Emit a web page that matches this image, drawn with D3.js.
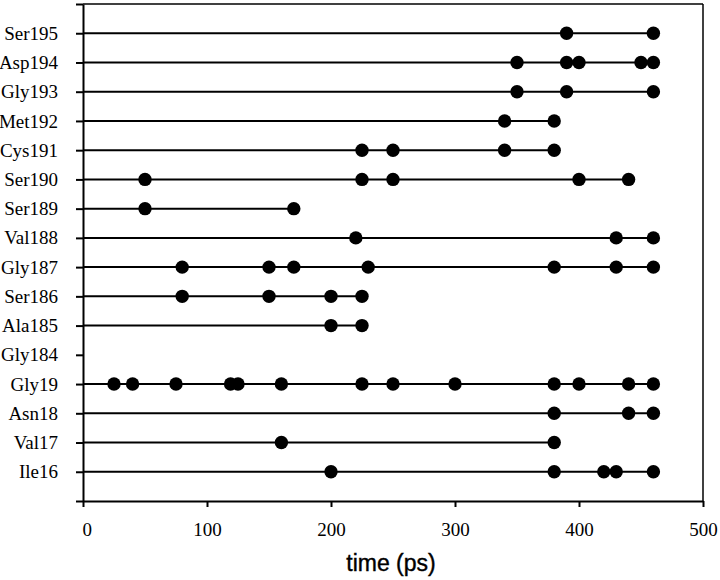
<!DOCTYPE html>
<html>
<head>
<meta charset="utf-8">
<script src="https://cdn.jsdelivr.net/npm/d3@7"></script>
<style>
    body { margin: 0; background: #fff; }
    svg { display: block; }
    .axis path, .axis line { stroke: #000; stroke-width: 2px; }
    .axis text { font-family: "Liberation Serif", "Times New Roman", serif; font-size: 19px; fill: #000; }
    .row-line { stroke: #000; stroke-width: 2px; }
    .dot { fill: #000; }
    .frame { stroke: #000; stroke-width: 1.5px; }
    .x-title { font-family: "Liberation Sans", Arial, sans-serif; font-size: 23px; fill: #000; stroke: #000; stroke-width: 0.4px; }
</style>
</head>
<body>
<svg class="events" width="720" height="580"></svg>
<script>
"use strict";

// residues from bottom (position 1) to top (position 16)
var residues = ["Ile16", "Val17", "Asn18", "Gly19", "Gly184", "Ala185", "Ser186", "Gly187",
    "Val188", "Ser189", "Ser190", "Cys191", "Met192", "Gly193", "Asp194", "Ser195"];

// event times (ps) for each residue, same order as above
var eventTimes = [
    [200, 380, 420, 430, 460],                                    // Ile16
    [160, 380],                                                    // Val17
    [380, 440, 460],                                               // Asn18
    [25, 40, 75, 119, 125, 160, 225, 250, 300, 380, 400, 440, 460], // Gly19
    [],                                                            // Gly184
    [200, 225],                                                    // Ala185
    [80, 150, 200, 225],                                           // Ser186
    [80, 150, 170, 230, 380, 430, 460],                            // Gly187
    [220, 430, 460],                                               // Val188
    [50, 170],                                                     // Ser189
    [50, 225, 250, 400, 440],                                      // Ser190
    [225, 250, 340, 380],                                          // Cys191
    [340, 380],                                                    // Met192
    [350, 390, 460],                                               // Gly193
    [350, 390, 400, 450, 460],                                     // Asp194
    [390, 460]                                                     // Ser195
];

var xTicks = [0, 100, 200, 300, 400, 500];

function drawEventChart() {
    var svg = d3.select("svg.events");
    var margin = { top: 4, right: 17, bottom: 79, left: 83 };
    var width = +svg.attr("width") - margin.left - margin.right;
    var height = +svg.attr("height") - margin.top - margin.bottom;
    var g = svg.append("g").attr("transform", "translate(" + margin.left + ", " + margin.top + ")");

    var x = d3.scaleLinear().domain([0, 500]).range([0, width]);
    var y = d3.scaleLinear().domain([0, residues.length + 1]).range([height, 0]);

    var rows = residues.map(function (name, i) {
        return { name: name, pos: i + 1, times: eventTimes[i] };
    });

    // frame: top and right sides
    g.append("line").attr("class", "frame").attr("x1", 0).attr("x2", width).attr("y1", 0).attr("y2", 0);
    g.append("line").attr("class", "frame").attr("x1", width).attr("x2", width).attr("y1", 0).attr("y2", height);

    var xAxis = g.append("g").attr("class", "axis axis--x").attr("transform", "translate(0, " + height + ")")
        .call(d3.axisBottom(x).tickValues(xTicks).tickSize(6).tickSizeOuter(0).tickPadding(16).tickFormat(d3.format("d")));
    // the zero label sits a little right of its tick in the original
    xAxis.selectAll(".tick text").filter(function (d) { return d === 0; }).attr("dx", "0.2em");

    var yTicks = d3.range(0, residues.length + 2);
    g.append("g").attr("class", "axis axis--y")
        .call(d3.axisLeft(y).tickValues(yTicks).tickSize(7).tickSizeOuter(0).tickPadding(18).tickFormat(function (d) {
            return d >= 1 && d <= residues.length ? residues[d - 1] : "";
        }));

    g.append("text").attr("class", "x-title").attr("x", x(250) - 2).attr("y", height + 70)
        .attr("text-anchor", "middle").text("time (ps)");

    var withEvents = rows.filter(function (d) { return d.times.length > 0; });

    g.selectAll(".row-line").data(withEvents).enter().append("line").attr("class", "row-line")
        .attr("x1", x(0)).attr("x2", function (d) {
            return x(d3.max(d.times));
        }).attr("y1", function (d) {
            return y(d.pos);
        }).attr("y2", function (d) {
            return y(d.pos);
        });

    var dots = [];
    rows.forEach(function (row) {
        row.times.forEach(function (t) {
            dots.push({ pos: row.pos, t: t });
        });
    });

    g.selectAll(".dot").data(dots).enter().append("circle").attr("class", "dot")
        .attr("cx", function (d) {
            return x(d.t);
        }).attr("cy", function (d) {
            return y(d.pos);
        }).attr("r", 6.7);
}

drawEventChart();
</script>
</body>
</html>
